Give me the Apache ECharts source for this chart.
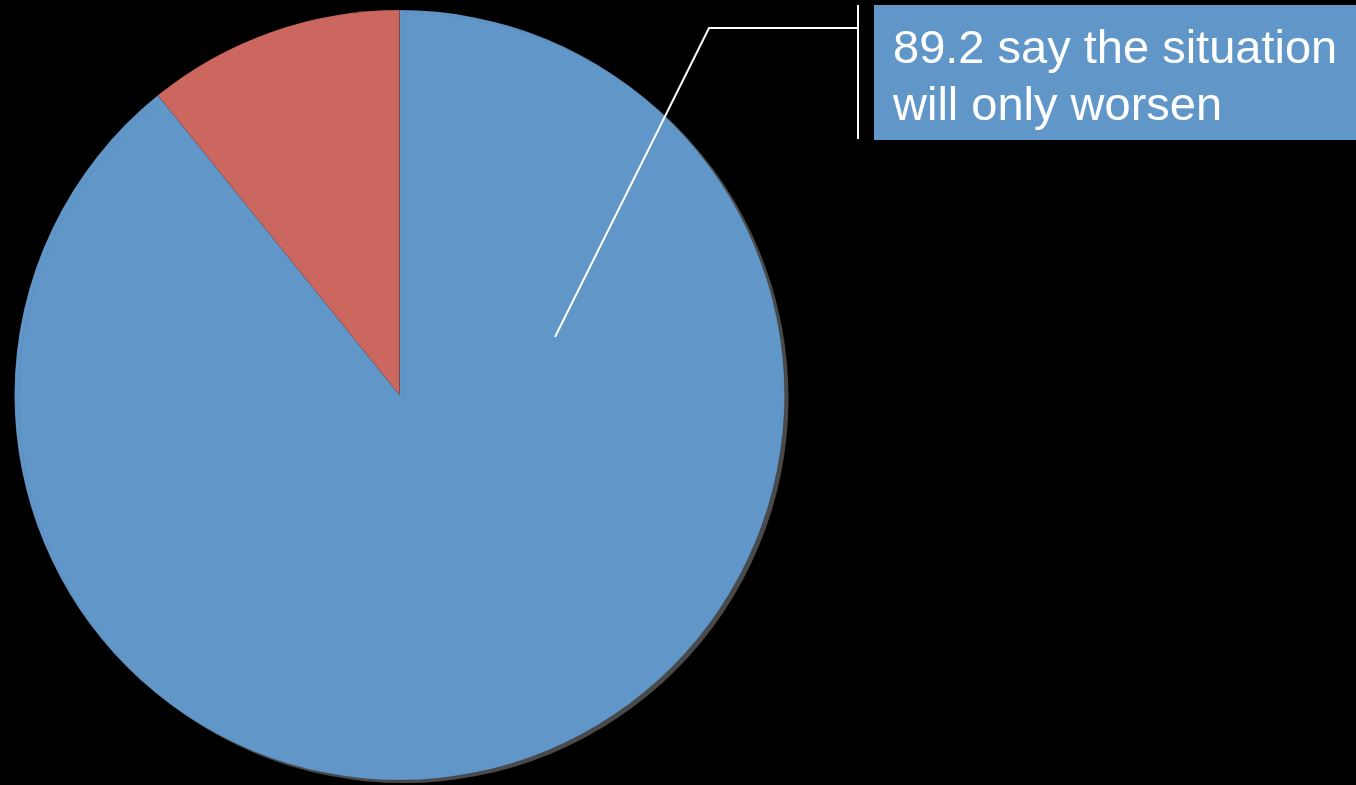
<!DOCTYPE html>
<html>
<head>
<meta charset="utf-8">
<script src="https://cdn.jsdelivr.net/npm/echarts@6/dist/echarts.min.js"></script>
<style>
html,body{margin:0;padding:0;background:#000;}
#c{width:1356px;height:785px;}
</style>
</head>
<body>
<div id="c"></div>
<script>
const categories = ['say the situation will only worsen', 'other'];
const values = [89.2, 10.8];
const labelLines = ['say the situation', 'will only worsen'];
const colors = ['#6196C8', '#CC675F'];

const chart = echarts.init(document.getElementById('c'), null, {renderer: 'canvas'});
const data = categories.map((name, i) => {
  const item = {name: name, value: values[i], itemStyle: {color: colors[i]}, label: {show: false}};
  if (i === 0) {
    item.itemStyle.shadowColor = '#4a4a4a';
    item.itemStyle.shadowOffsetX = 4;
    item.itemStyle.shadowOffsetY = 3;
    item.itemStyle.shadowBlur = 0;
    item.label = {
      show: true,
      formatter: p => p.value + ' ' + labelLines[0] + '\n' + labelLines[1],
      color: '#ffffff',
      fontFamily: 'Liberation Sans, Arial, sans-serif',
      fontSize: 47,
      lineHeight: 57,
      backgroundColor: colors[0],
      padding: [17, 40, 4, 19],
      align: 'left'
    };
  }
  return item;
});

chart.setOption({
  backgroundColor: '#000000',
  animation: false,
  graphic: [
    {type: 'polyline', shape: {points: [[555, 337], [709, 28], [858, 28]]}, style: {stroke: '#ffffff', lineWidth: 2, fill: null}, z: 100},
    {type: 'line', shape: {x1: 858, y1: 5, x2: 858, y2: 139}, style: {stroke: '#ffffff', lineWidth: 2}, z: 100}
  ],
  series: [{
    type: 'pie',
    center: [399.5, 395],
    radius: 385,
    startAngle: 90,
    clockwise: true,
    avoidLabelOverlap: false,
    labelLine: {show: false},
    itemStyle: {borderColor: 'rgba(0,0,0,0.2)', borderWidth: 0.5},
    emphasis: {disabled: true},
    labelLayout: function (params) {
      if (params.dataIndex === 0) {
        return {x: 874, y: 5, align: 'left', verticalAlign: 'top'};
      }
      return {};
    },
    data: data
  }]
});
</script>
</body>
</html>
